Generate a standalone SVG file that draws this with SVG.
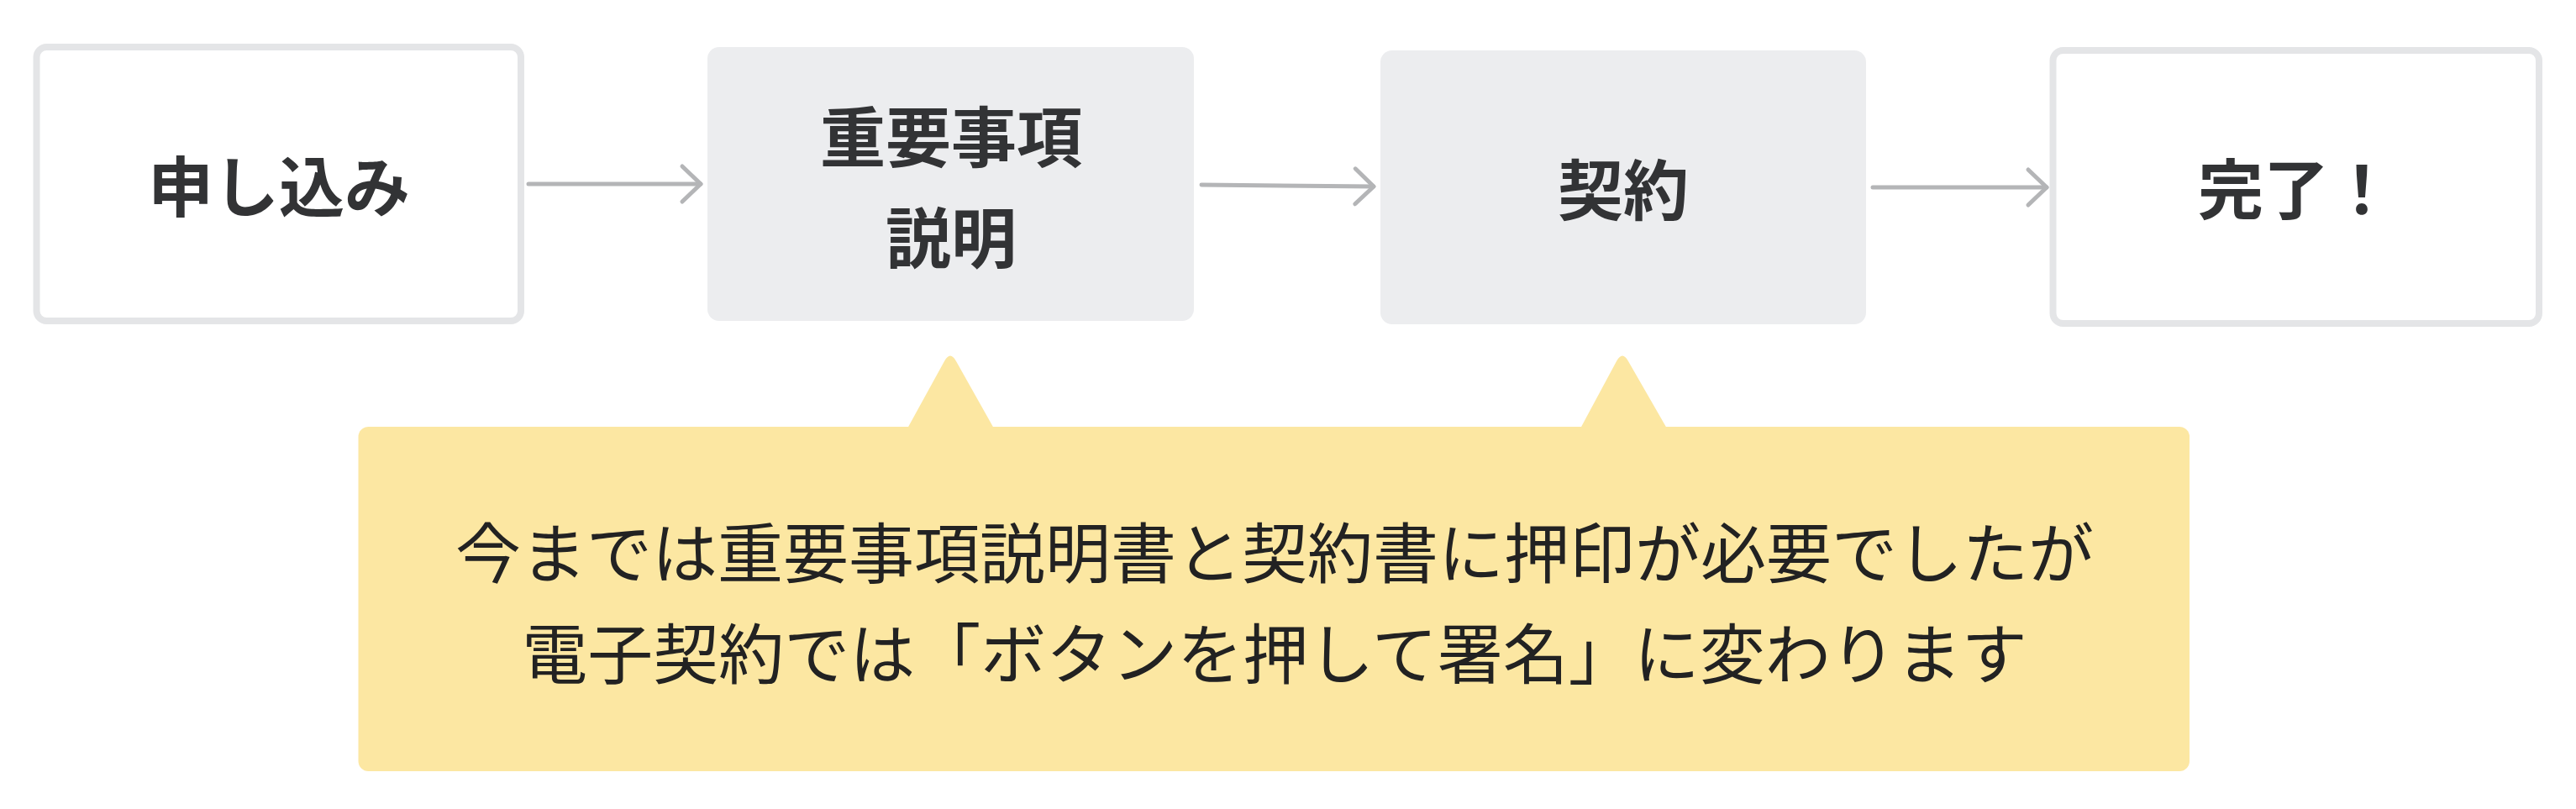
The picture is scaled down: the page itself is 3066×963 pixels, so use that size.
<svg xmlns="http://www.w3.org/2000/svg" width="3066" height="963" viewBox="0 0 3066 963">
<style>
.bg{fill:#ffffff}
.white{fill:#ffffff;stroke:#e4e5e7;stroke-width:8}
.gray{fill:#ecedef}
.label{font-family:"Noto Sans CJK JP","Noto Sans",sans-serif;font-weight:700;font-size:78px;fill:#323335;text-anchor:middle;dominant-baseline:central}
.note{font-family:"Noto Sans CJK JP","Noto Sans",sans-serif;font-weight:400;font-size:78px;fill:#222222;text-anchor:middle;dominant-baseline:central}
.conn{stroke:#b4b5b7;stroke-width:5;stroke-linecap:round;fill:none}
.bubble{fill:#fce7a2}
</style>
<defs>
<marker id="ah" markerUnits="userSpaceOnUse" markerWidth="40" markerHeight="50" refX="22" refY="21" orient="auto" overflow="visible">
<path d="M0,0 L22,21 L0,42" fill="none" stroke="#b4b5b7" stroke-width="5" stroke-linecap="round" stroke-linejoin="round"/>
</marker>
</defs>
<rect class="bg" x="0" y="0" width="3066" height="963"/>
<g id="connectors">
<line class="conn" x1="629" y1="219" x2="834" y2="219" marker-end="url(#ah)"/>
<line class="conn" x1="1430" y1="220" x2="1635" y2="222" marker-end="url(#ah)"/>
<line class="conn" x1="2229" y1="223" x2="2436" y2="223" marker-end="url(#ah)"/>
</g>
<g id="node-apply">
<rect class="white" x="43.5" y="56" width="576.5" height="326" rx="12"/>
<text class="label" x="332" y="218">申し込み</text>
</g>
<g id="node-explanation">
<rect class="gray" x="842" y="56" width="579" height="326" rx="14"/>
<text class="label" x="1132" y="159">重要事項</text>
<text class="label" x="1132" y="279">説明</text>
</g>
<g id="node-contract">
<rect class="gray" x="1643" y="60" width="578" height="326" rx="14"/>
<text class="label" x="1932" y="222">契約</text>
</g>
<g id="node-done">
<rect class="white" x="2443.5" y="60" width="578.5" height="325" rx="12"/>
<text class="label" x="2733" y="221">完了！</text>
</g>
<g id="callout">
<path class="bubble" d="M1080,510 L1124,430 Q1131,417 1138,430 L1183,510 Z"/>
<path class="bubble" d="M1881,510 L1924,430 Q1931,417 1938,430 L1984,510 Z"/>
<rect class="bubble" x="426.5" y="508" width="2179.5" height="410" rx="12"/>
<text class="note" x="1517" y="654">今までは重要事項説明書と契約書に押印が必要でしたが</text>
<text class="note" x="1517" y="774">電子契約では「ボタンを押して署名」に変わります</text>
</g>
</svg>
